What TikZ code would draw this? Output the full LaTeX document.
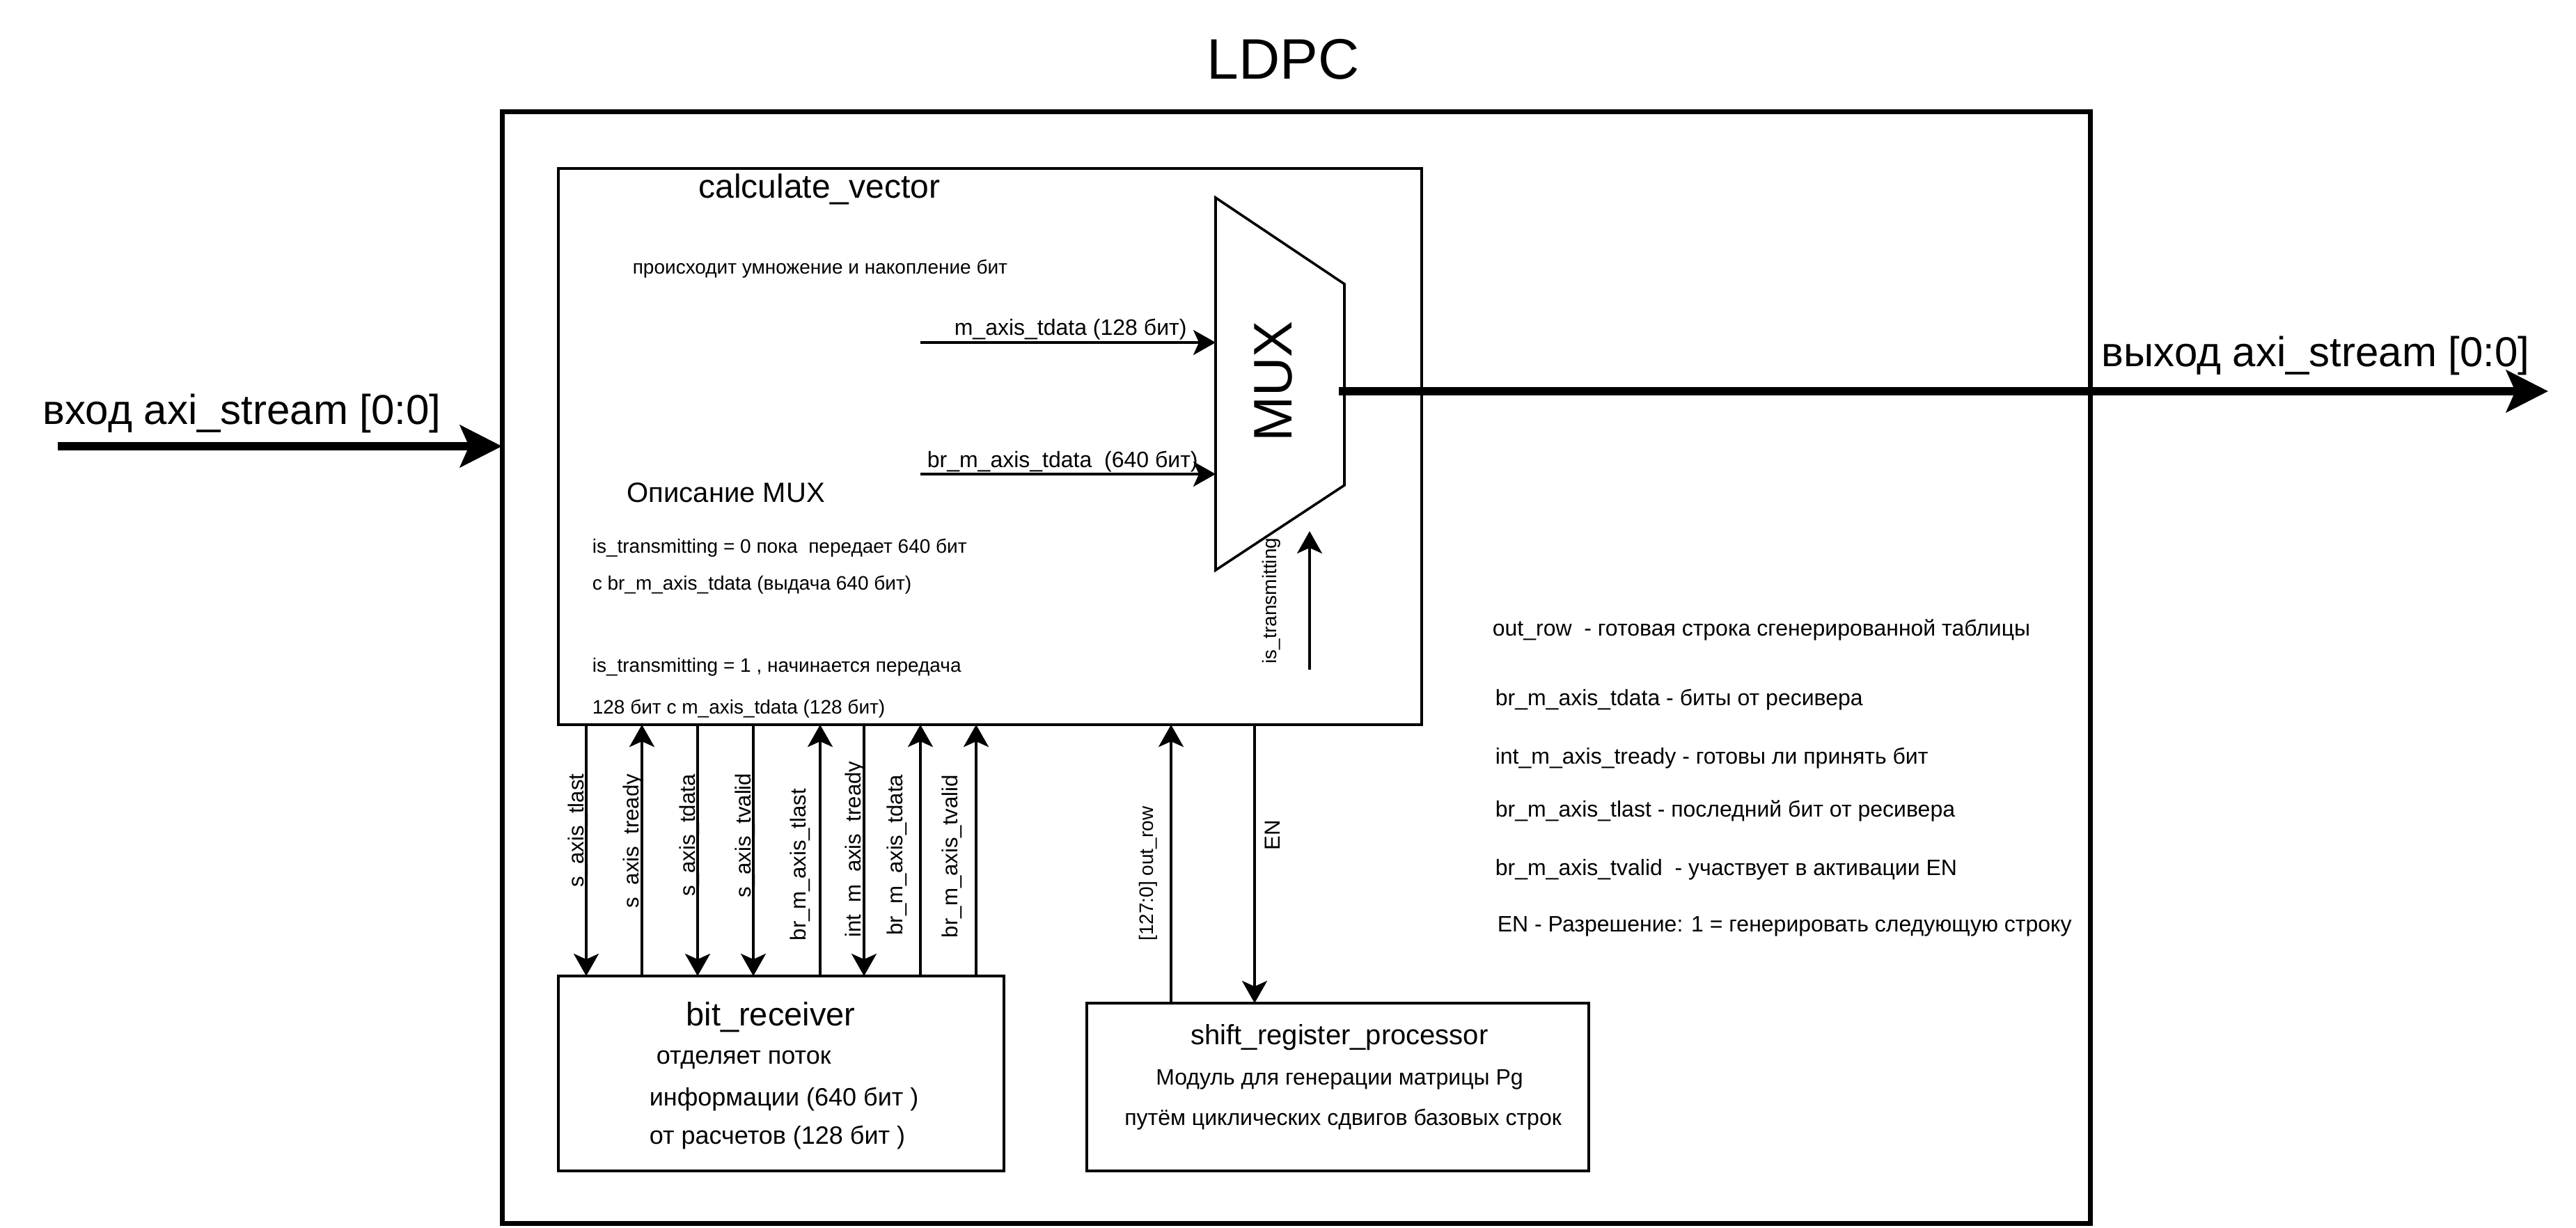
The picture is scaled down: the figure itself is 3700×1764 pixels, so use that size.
\documentclass[tikz,border=0pt]{standalone}
\usepackage{fontspec}
\setmainfont{Liberation Sans}
\usetikzlibrary{arrows.meta}
\begin{document}
\begin{tikzpicture}[x=0.25pt, y=-0.25pt,
  box/.style={draw, line width=1pt, inner sep=0pt, outer sep=0pt},
  outerbox/.style={draw, line width=1.75pt, inner sep=0pt, outer sep=0pt},
  sig/.style={line width=0.9pt, -{Stealth[length=8pt, width=9pt, inset=2pt]}},
  bigar/.style={line width=3.1pt, -{Stealth[length=15pt, width=15pt, inset=3.2pt]}},
  ftitle/.style={font=\fontsize{20.5pt}{24pt}\selectfont, inner sep=0pt},
  fio/.style={font=\fontsize{15pt}{18pt}\selectfont, inner sep=0pt},
  fhead/.style={font=\fontsize{12pt}{14pt}\selectfont, inner sep=0pt},
  fdesc/.style={font=\fontsize{10pt}{12pt}\selectfont, inner sep=0pt},
  frecv/.style={font=\fontsize{9pt}{11pt}\selectfont, inner sep=0pt},
  fmid/.style={font=\fontsize{8pt}{9.6pt}\selectfont, inner sep=0pt},
  fsmall/.style={font=\fontsize{7pt}{8.4pt}\selectfont, inner sep=0pt},
  vlab/.style={font=\fontsize{7.8pt}{9pt}\selectfont, inner sep=0pt, rotate=90, anchor=base},
]
\useasboundingbox (0,0) rectangle (3700,1764);

% boxes
\node[outerbox, minimum width=570.25pt, minimum height=399pt] (ldpc) at (1861.5,959) {};
\node[box, minimum width=310pt, minimum height=199.75pt] (calc) at (1422,641.5) {};
\node[box, minimum width=160pt, minimum height=70pt] (recv) at (1122,1542) {};
\node[box, minimum width=180.25pt, minimum height=60.25pt] (shift) at (1921.5,1561.5) {};

% MUX
\coordinate (m1) at (1746,284);
\coordinate (m2) at (1931,408);
\coordinate (m3) at (1931,697);
\coordinate (m4) at (1746,819);
\draw[line width=0.9pt] (m1) -- (m2) -- (m3) -- (m4) -- cycle;
\node[font=\fontsize{19.5pt}{22pt}\selectfont, inner sep=0pt, rotate=90, anchor=base] (muxt) at (1855,548) {MUX};

% title
\node[ftitle, anchor=base] (title) at (1843,114) {LDPC};

% input / output
\coordinate (inbeg) at (83,641);
\draw[bigar] (inbeg) -- (0,641 -| ldpc.west);
\node[fio, anchor=base west] (inl) at (61,609) {вход axi\_stream [0:0]};
\coordinate (muxout) at (1923,562);
\coordinate (outend) at (3660,562);
\draw[bigar] (muxout) -- (outend);
\node[fio, anchor=base west] (outl) at (3018,527) {выход axi\_stream [0:0]};

% calculate_vector texts
\node[fhead, anchor=base] (cvt) at (1177,285) {calculate\_vector};
\node[fsmall, anchor=base west] (cv1) at (908,394) {происходит умножение и накопление бит};
\node[fdesc, anchor=base west] (cv2) at (900,721) {Описание MUX};
\node[fsmall, anchor=base west] (cv3) at (850,794) {is\_transmitting = 0 пока~ передает 640 бит};
\node[fsmall, anchor=base west] (cv4) at (850,847) {с br\_m\_axis\_tdata (выдача 640 бит)};
\node[fsmall, anchor=base west] (cv5) at (850,965) {is\_transmitting = 1 , начинается передача};
\node[fsmall, anchor=base west] (cv6) at (850,1025) {128 бит с m\_axis\_tdata (128 бит)};

% MUX inputs
\coordinate (ain1) at (1322,492);
\coordinate (ain2) at (1322,681);
\draw[sig] (ain1) -- (m1 |- ain1);
\draw[sig] (ain2) -- (m1 |- ain2);
\node[fmid, anchor=base west] (al1) at (1370,482) {m\_axis\_tdata (128 бит)};
\node[fmid, anchor=base west] (al2) at (1331,671) {br\_m\_axis\_tdata~ (640 бит)};

% is_transmitting
\coordinate (isb) at (1881,962);
\coordinate (ist) at (1881,763);
\draw[sig] (isb) -- (ist);
\node[font=\fontsize{7pt}{8.4pt}\selectfont, inner sep=0pt, rotate=90, anchor=base] (isl) at (1833,863) {is\_transmitting};

% vertical signals between calc and recv
\draw[sig] (calc.south -| 842,0) -- (recv.north -| 842,0);
\draw[sig] (recv.north -| 922,0) -- (calc.south -| 922,0);
\draw[sig] (calc.south -| 1002,0) -- (recv.north -| 1002,0);
\draw[sig] (calc.south -| 1082,0) -- (recv.north -| 1082,0);
\draw[sig] (recv.north -| 1178,0) -- (calc.south -| 1178,0);
\draw[sig] (calc.south -| 1241,0) -- (recv.north -| 1241,0);
\draw[sig] (recv.north -| 1322,0) -- (calc.south -| 1322,0);
\draw[sig] (recv.north -| 1402,0) -- (calc.south -| 1402,0);
\node[vlab] (v1) at (838,1193) {s\_axis\_tlast};
\node[vlab] (v2) at (917,1208) {s\_axis\_tready};
\node[vlab] (v3) at (998,1200) {s\_axis\_tdata};
\node[vlab] (v4) at (1078,1200) {s\_axis\_tvalid};
\node[vlab] (v5) at (1157,1242) {br\_m\_axis\_tlast};
\node[vlab] (v6) at (1236,1220) {int\_m\_axis\_tready};
\node[vlab] (v7) at (1296,1228) {br\_m\_axis\_tdata};
\node[vlab] (v8) at (1375,1230) {br\_m\_axis\_tvalid};

% shift register connectors
\draw[sig] (shift.north -| 1682,0) -- (calc.south -| 1682,0);
\draw[sig] (calc.south -| 1802,0) -- (shift.north -| 1802,0);
\node[font=\fontsize{7pt}{8.4pt}\selectfont, inner sep=0pt, rotate=90, anchor=base] (orl) at (1656,1255) {[127:0] out\_row};
\node[vlab] (enl) at (1838,1200) {EN};

% bit_receiver texts
\node[font=\fontsize{11.75pt}{14pt}\selectfont, inner sep=0pt, anchor=base] (rt) at (1107,1473) {bit\_receiver};
\node[frecv, anchor=base west] (r1) at (942,1528) {отделяет поток};
\node[frecv, anchor=base west] (r2) at (932,1588) {информации (640 бит )};
\node[frecv, anchor=base west] (r3) at (932,1643) {от расчетов (128 бит )};

% shift_register_processor texts
\node[fdesc, anchor=base] (st) at (1924,1500) {shift\_register\_processor};
\node[fmid, anchor=base] (s1) at (1924,1558) {Модуль для генерации матрицы Pg};
\node[fmid, anchor=base] (s2) at (1929,1616) {путём циклических сдвигов базовых строк};

% legend
\node[fmid, anchor=base west] (g1) at (2143,913) {out\_row~ - готовая строка сгенерированной таблицы};
\node[fmid, anchor=base west] (g2) at (2147,1013) {br\_m\_axis\_tdata - биты от ресивера};
\node[fmid, anchor=base west] (g3) at (2147,1097) {int\_m\_axis\_tready - готовы ли принять бит};
\node[fmid, anchor=base west] (g4) at (2147,1173) {br\_m\_axis\_tlast - последний бит от ресивера};
\node[fmid, anchor=base west] (g5) at (2147,1257) {br\_m\_axis\_tvalid~ - участвует в активации EN};
\node[fmid, anchor=base west] (g6) at (2150,1338) {EN - Разрешение: 1 = генерировать следующую строку};
\end{tikzpicture}
\end{document}
